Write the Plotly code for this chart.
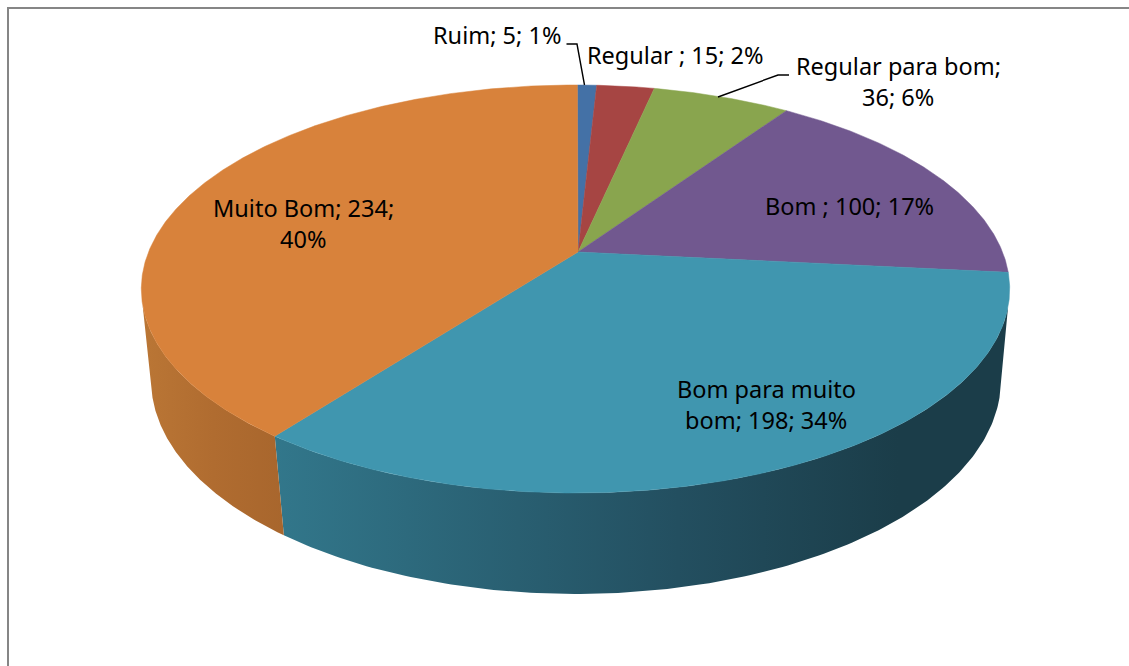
import numpy as np
import plotly.graph_objects as go

# ---- data ----
categories = ["Ruim", "Regular ", "Regular para bom", "Bom ", "Bom para muito bom", "Muito Bom"]
values = [5, 15, 36, 100, 198, 234]
label_lines = [
    ["Ruim; 5; 1%"],
    ["Regular ; 15; 2%"],
    ["Regular para bom;", "36; 6%"],
    ["Bom ; 100; 17%"],
    ["Bom para muito", "bom; 198; 34%"],
    ["Muito Bom; 234;", "40%"],
]

# ---- styles ----
top_colors = ["#4471A6", "#A64543", "#89A54E", "#71588F", "#4096AF", "#D8823B"]
wall_gradients = {
    4: [[0, "#32778B"], [0.55, "#234F60"], [0.85, "#1B3D49"], [1, "#1B3D49"]],
    5: [[0, "#BA7635"], [0.5, "#B06C30"], [1, "#A8662D"]],
}
label_anchor = [(496.5, 35), (675.5, 55), (898, 66), (849, 206), (766, 389), (303, 208)]
LINE_PITCH = 31
FONT = dict(family="'Noto Sans', sans-serif", size=23.5, color="#000000")

# ---- perspective projection of the disc (canvas pixels) ----
TOP = dict(cx=575.5, a=252.0, A=427.0, B=197.3, k=0.1814, rot=0.3)
BOT = dict(cx=576.0, a=341.5, A=418.0, B=207.0, k=0.18, rot=0.0)
APEX = (578.0, 252.0)
WALL_FROM, WALL_TO = 105.0, 255.0   # angles of the silhouette


def project(deg, p):
    t = np.radians(deg + p["rot"])
    X, Y = np.sin(t), -np.cos(t)
    d = 1 - p["k"] * Y
    return p["cx"] + p["A"] * X / d, p["a"] + p["B"] * Y / d


edges = np.concatenate([[0], np.cumsum(values)]) / np.sum(values) * 360.0
fig = go.Figure()

# side walls
for i in range(len(values)):
    lo, hi = max(edges[i], WALL_FROM), min(edges[i + 1], WALL_TO)
    if hi <= lo:
        continue
    ts = np.linspace(lo, hi, 160)
    x1, y1 = project(ts, TOP)
    x2, y2 = project(ts[::-1], BOT)
    fig.add_trace(go.Scatter(
        x=np.concatenate([x1, x2, x1[:1]]), y=np.concatenate([y1, y2, y1[:1]]),
        mode="lines", fill="toself",
        line=dict(width=0, color="rgba(0,0,0,0)"),
        fillgradient=dict(type="horizontal", colorscale=wall_gradients[i]),
        hoverinfo="skip", showlegend=False,
    ))

# top faces
for i in range(len(values)):
    n = max(int((edges[i + 1] - edges[i]) * 3), 8)
    ts = np.linspace(edges[i], edges[i + 1], n)
    x, y = project(ts, TOP)
    fig.add_trace(go.Scatter(
        x=np.concatenate([[APEX[0]], x, [APEX[0]]]), y=np.concatenate([[APEX[1]], y, [APEX[1]]]),
        mode="lines", fill="toself", fillcolor=top_colors[i],
        line=dict(width=0.5, color=top_colors[i]),
        name=categories[i], hoverinfo="name", showlegend=False,
    ))

# leader lines
for lx, ly in [((566.5, 577, 584.5), (44, 44, 85)), ((789, 778, 718), (75, 75, 97))]:
    fig.add_trace(go.Scatter(x=lx, y=ly, mode="lines",
                             line=dict(color="#000000", width=1.4),
                             hoverinfo="skip", showlegend=False))

# labels
annotations = []
for lines, (lx, ly) in zip(label_lines, label_anchor):
    for j, txt in enumerate(lines):
        annotations.append(dict(x=lx, y=ly + j * LINE_PITCH, text=txt, showarrow=False,
                                xanchor="center", yanchor="middle", font=FONT))

fig.update_layout(
    width=1129, height=666, margin=dict(l=0, r=0, t=0, b=0),
    paper_bgcolor="#FFFFFF", plot_bgcolor="#FFFFFF", showlegend=False,
    xaxis=dict(range=[0, 1129], visible=False, fixedrange=True),
    yaxis=dict(range=[666, 0], visible=False, fixedrange=True),
    annotations=annotations,
    shapes=[dict(type="line", xref="x", yref="y", x0=8, x1=8, y0=8, y1=666,
                 line=dict(color="#868686", width=2)),
            dict(type="line", xref="x", yref="y", x0=7, x1=1129, y0=8, y1=8,
                 line=dict(color="#868686", width=2))],
)
fig.write_html("out.html", config=dict(displayModeBar=False),
               post_script="document.body.style.margin='0';document.body.style.overflow='hidden';")
